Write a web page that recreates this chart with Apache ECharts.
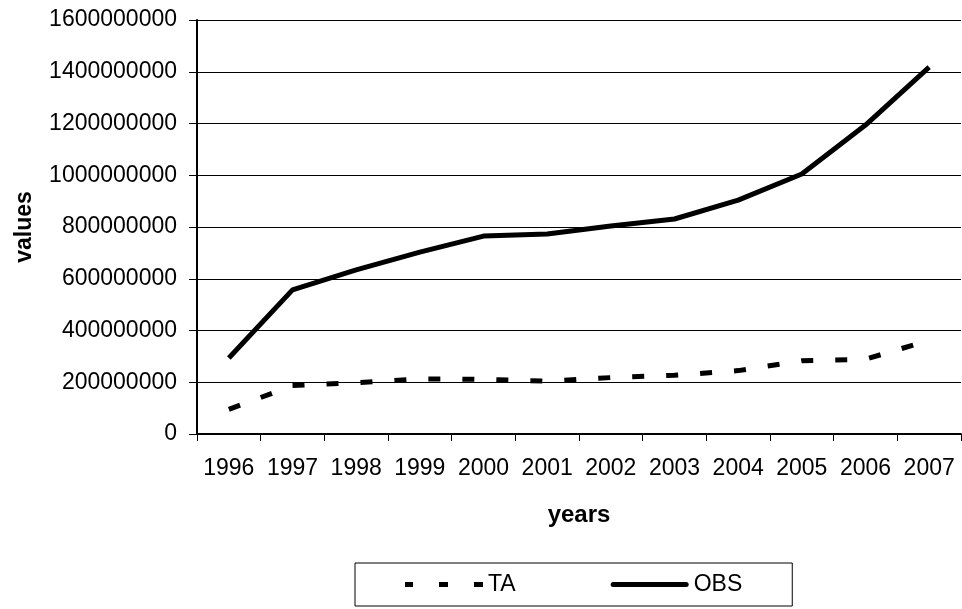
<!DOCTYPE html>
<html>
<head>
<meta charset="utf-8">
<script src="https://cdn.jsdelivr.net/npm/echarts@6/dist/echarts.min.js"></script>
<style>html,body{margin:0;padding:0;background:#fff}#c{width:962px;height:609px}</style>
</head>
<body>
<div id="c"></div>
<script>
const years = ['1996','1997','1998','1999','2000','2001','2002','2003','2004','2005','2006','2007'];
const taValues = [95e6, 187e6, 198e6, 213e6, 211e6, 204e6, 218e6, 227e6, 245e6, 283e6, 289e6, 362e6];
const obsValues = [294e6, 557e6, 634e6, 703e6, 765e6, 773e6, 804e6, 831e6, 904e6, 1005e6, 1194e6, 1418e6];

const chart = echarts.init(document.getElementById('c'), null, {renderer: 'canvas'});
const font = 'Liberation Sans, Arial, sans-serif';
chart.setOption({
  animation: false,
  backgroundColor: '#fff',
  textStyle: {fontFamily: font},
  grid: {left: 197, right: 1, top: 20, bottom: 175, containLabel: false, outerBoundsMode: 'none'},
  legend: {
    left: 355, top: 563,
    orient: 'horizontal',
    borderColor: '#000', borderWidth: 1,
    padding: [10, 50, 10, 50],
    itemGap: 95,
    itemWidth: 78, itemHeight: 5,
    textStyle: {fontFamily: font, fontSize: 23, color: '#000'},
    data: [
      {name: 'TA', icon: 'path://M0,0h8v5h-8z M34,0h9v5h-9z M69,0h9v5h-9z'},
      {name: 'OBS', icon: 'path://M2.5,0h73a2.5,2.5 0 0 1 0,5h-73a2.5,2.5 0 0 1 0,-5z'}
    ]
  },
  xAxis: {
    type: 'category',
    data: years,
    boundaryGap: true,
    name: 'years',
    nameLocation: 'middle',
    nameGap: 69,
    nameTextStyle: {fontFamily: font, fontSize: 24, fontWeight: 'bold', color: '#000'},
    axisLine: {lineStyle: {color: '#000', width: 2}},
    axisTick: {show: true, length: 7, interval: 0, lineStyle: {color: '#000', width: 1}},
    axisLabel: {fontFamily: font, fontSize: 23, color: '#000', margin: 23, interval: 0, hideOverlap: false}
  },
  yAxis: {
    type: 'value',
    min: 0, max: 1600000000, interval: 200000000,
    name: 'values',
    nameLocation: 'middle',
    nameGap: 161,
    nameTextStyle: {fontFamily: font, fontSize: 23, fontWeight: 'bold', color: '#000'},
    axisLine: {show: true, lineStyle: {color: '#000', width: 2}},
    axisTick: {show: true, length: 8, lineStyle: {color: '#000', width: 1}},
    axisLabel: {fontFamily: font, fontSize: 23, color: '#000', margin: 20, formatter: v => String(v)},
    splitLine: {show: true, lineStyle: {color: '#000', width: 1}}
  },
  series: [
    {
      name: 'TA', type: 'line', data: taValues,
      showSymbol: false, symbol: 'none',
      lineStyle: {color: '#000', width: 5, type: [12, 22], cap: 'butt'},
      itemStyle: {color: '#000'}
    },
    {
      name: 'OBS', type: 'line', data: obsValues,
      showSymbol: false, symbol: 'none',
      lineStyle: {color: '#000', width: 5},
      itemStyle: {color: '#000'}
    }
  ]
});
</script>
</body>
</html>
